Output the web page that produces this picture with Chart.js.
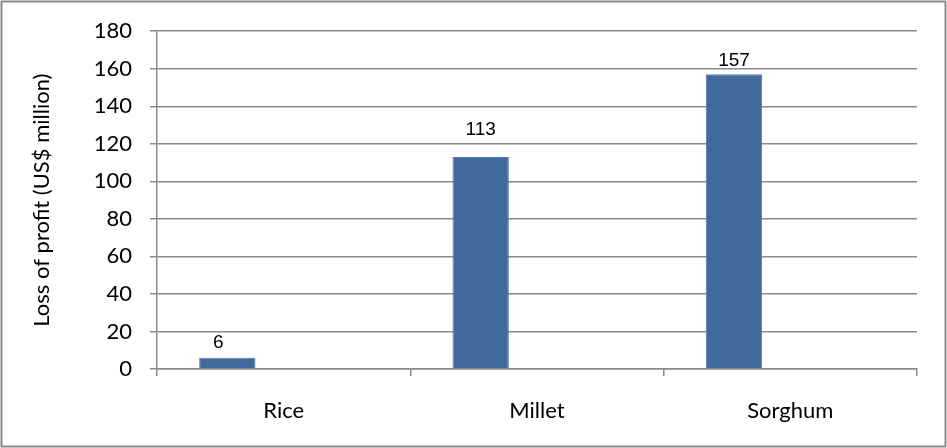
<!DOCTYPE html>
<html>
<head>
<meta charset="utf-8">
<script src="https://cdn.jsdelivr.net/npm/chart.js@4"></script>
<style>
    body { margin: 0; background: #fff; }
    #wrap { width: 947px; height: 448px; position: relative; }
</style>
</head>
<body>
<div id="wrap"><canvas id="chart" width="947" height="448"></canvas></div>
<script>
// 데이터
const categories = ['Rice', 'Millet', 'Sorghum'];
const lossValues = [6, 113, 157];
const emptySeries = [null, null, null];
const yTicks = [0, 20, 40, 60, 80, 100, 120, 140, 160, 180];

// 값 라벨 위치 보정 (x, 위로 올림)
const labelShift = [[-9, 15], [0, 27], [0, 14]];

// 바깥 테두리
const borderPlugin = {
    id: 'outerBorder',
    afterDraw(chart) {
        const ctx = chart.ctx;
        ctx.save();
        ctx.strokeStyle = '#8a8a8a';
        ctx.lineWidth = 2;
        ctx.strokeRect(1.5, 1.5, chart.width - 3, chart.height - 3);
        ctx.restore();
    }
};

// 막대 위 값 표시
const valueLabels = {
    id: 'valueLabels',
    afterDatasetsDraw(chart) {
        const ctx = chart.ctx;
        const meta = chart.getDatasetMeta(0);
        ctx.save();
        ctx.font = '19px "Liberation Sans", Arial, sans-serif';
        ctx.fillStyle = '#000';
        ctx.textAlign = 'center';
        ctx.textBaseline = 'middle';
        meta.data.forEach((bar, i) => {
            const s = labelShift[i] || [0, 15];
            ctx.fillText(String(lossValues[i]), bar.x + s[0], bar.y - s[1]);
        });
        ctx.restore();
    }
};

new Chart(document.getElementById('chart'), {
    type: 'bar',
    data: {
        labels: categories,
        datasets: [
            { label: 'Loss', data: lossValues, backgroundColor: '#41699b', borderColor: '#5079ab', borderWidth: 1 },
            { label: 's2', data: emptySeries, backgroundColor: '#a0413c' },
            { label: 's3', data: emptySeries, backgroundColor: '#86a044' }
        ]
    },
    options: {
        responsive: false,
        animation: false,
        datasets: {
            bar: { categoryPercentage: 0.667, barPercentage: 1.0 }
        },
        layout: { padding: { top: 30, right: 30, left: 0, bottom: 0 } },
        plugins: {
            legend: { display: false },
            tooltip: { enabled: false }
        },
        scales: {
            x: {
                grid: {
                    offset: true,
                    drawOnChartArea: false,
                    drawTicks: true,
                    tickLength: 7,
                    color: '#8a8a8a',
                    lineWidth: 1.5
                },
                border: { color: '#8a8a8a', width: 1.5 },
                ticks: {
                    color: '#000',
                    padding: 22,
                    font: { family: 'Lato, "Open Sans", sans-serif', size: 22 }
                },
                afterFit(scale) { scale.height = 79; }
            },
            y: {
                min: 0,
                max: 180,
                afterBuildTicks(scale) {
                    scale.ticks = yTicks.map(v => ({ value: v }));
                },
                grid: {
                    color: '#8a8a8a',
                    lineWidth: 1.5,
                    tickLength: 7
                },
                border: { color: '#8a8a8a', width: 1.5 },
                ticks: {
                    color: '#000',
                    padding: 18,
                    font: { family: 'Lato, "Open Sans", sans-serif', size: 22 }
                },
                title: {
                    display: true,
                    text: 'Loss of profit (US$ million)',
                    color: '#000',
                    padding: { top: 29, bottom: 0 },
                    font: { family: 'Lato, "Open Sans", sans-serif', size: 22 }
                },
                afterFit(scale) { scale.width = 157; }
            }
        }
    },
    plugins: [borderPlugin, valueLabels]
});
</script>
</body>
</html>
